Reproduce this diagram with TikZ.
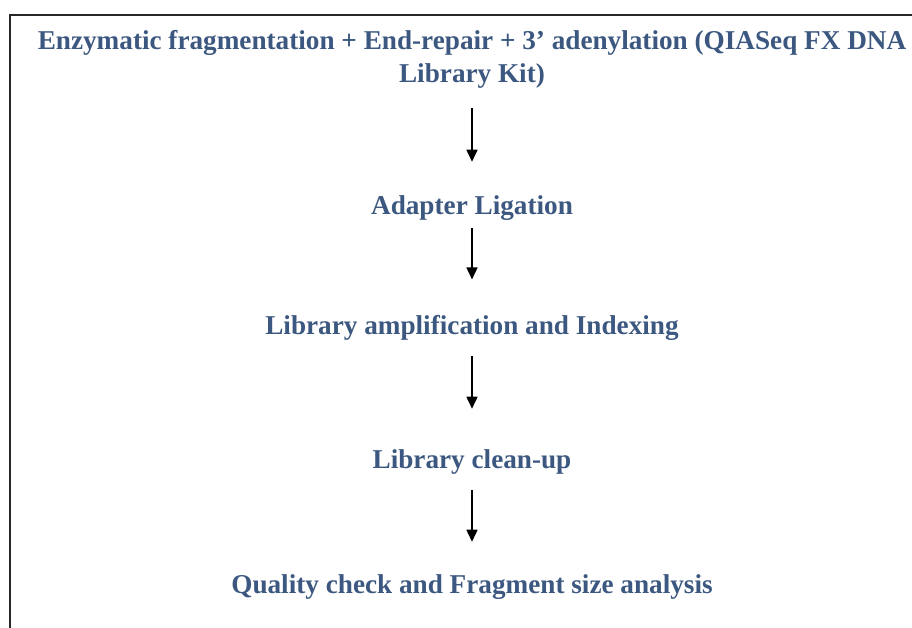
\documentclass[tikz,border=0pt]{standalone}
\usepackage{fontspec}
\setmainfont{Liberation Serif}
\usepackage{tikz}
\usetikzlibrary{arrows.meta,positioning,calc}
\definecolor{steptext}{RGB}{60,88,128}

\begin{document}
\begin{tikzpicture}[x=0.5bp,y=-0.5bp,
   	stage/.style={anchor=base,text=steptext,inner sep=0pt,
   		font=\bfseries\fontsize{13.6bp}{16.5bp}\selectfont,align=center},
   	flow/.style={draw=black,line width=0.8bp,
   		-{Triangle[width=5.5bp,length=6bp]}}]
   	\useasboundingbox (0,0) rectangle (912,628);
   	% frame (top and left edges only)
   	\draw [black!85,line width=0.75bp] (912,15) -- (10,15) -- (10,628);
   	\path   (472,83) 	node  	(enz) 	[stage] {Enzymatic fragmentation + End-repair + 3' adenylation (QIASeq FX DNA\\Library Kit)}
   	        (472,215) 	node  	(adapt) [stage] {Adapter Ligation}
   	        (472,335) 	node  	(amp) 	[stage] {Library amplification and Indexing}
   	        (472,468) 	node  	(clean) [stage] {Library clean-up}
   	        (472,593) 	node  	(qc) 	[stage] {Quality check and Fragment size analysis};
   	\draw [flow,shorten <=9.5bp,shorten >=17bp] (enz) -- (adapt);
   	\draw [flow,shorten <=3.5bp,shorten >=18bp] (adapt) -- (amp);
   	\draw [flow,shorten <=7.5bp,shorten >=20bp] (amp) -- (clean);
   	\draw [flow,shorten <=8bp,shorten >=16bp] (clean) -- (qc);
\end{tikzpicture}
\end{document}
